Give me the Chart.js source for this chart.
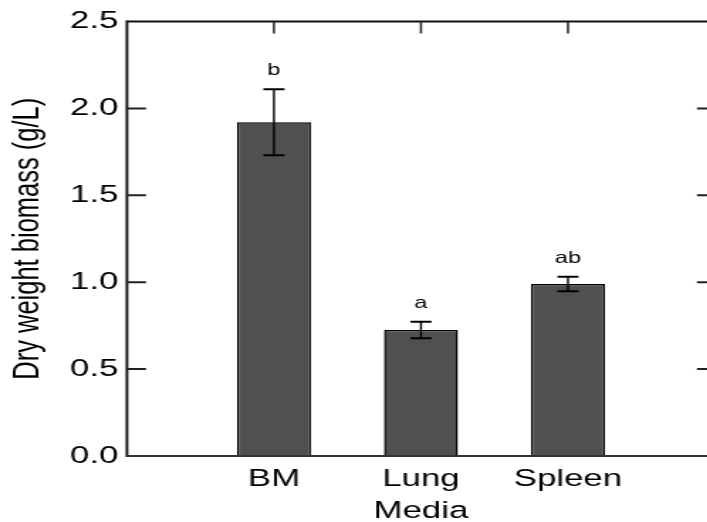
<!DOCTYPE html>
<html>
<head>
<meta charset="utf-8">
<script src="https://cdn.jsdelivr.net/npm/chart.js@4.4.0/dist/chart.umd.min.js"></script>
<style>
  html, body { margin: 0; padding: 0; background: #fff; overflow: hidden; }
  /* the reference is stretched sideways, so the chart is drawn narrow and widened */
  #wrap { width: 510px; height: 522px; transform: scaleX(1.42); transform-origin: 0 0; }
</style>
</head>
<body>
<div id="wrap"><canvas id="chart" width="510" height="522"></canvas></div>
<script>
const categories = ['BM', 'Lung', 'Spleen'];
const biomass = [1.92, 0.725, 0.99];
const errors = [0.19, 0.048, 0.042];
const letters = ['b', 'a', 'ab'];
const yTicks = [0, 0.5, 1.0, 1.5, 2.0, 2.5];

const FONT = "'Liberation Sans', Arial, sans-serif";

const frame = {
  id: 'frame',
  afterDatasetsDraw(chart) {
    const { ctx, scales: { x, y } } = chart;
    ctx.save();
    ctx.strokeStyle = '#000';
    biomass.forEach((v, i) => {
      const px = x.getPixelForValue(i + 1);
      const hi = y.getPixelForValue(v + errors[i]);
      const lo = y.getPixelForValue(v - errors[i]);
      ctx.lineWidth = 1.4;
      ctx.beginPath();
      ctx.moveTo(px, hi); ctx.lineTo(px, lo);
      ctx.stroke();
      ctx.lineWidth = 2;
      ctx.beginPath();
      ctx.moveTo(px - 7.4, hi); ctx.lineTo(px + 7.4, hi);
      ctx.moveTo(px - 7.4, lo); ctx.lineTo(px + 7.4, lo);
      ctx.stroke();
      ctx.fillStyle = '#000';
      ctx.font = '16.5px ' + FONT;
      ctx.textAlign = 'center';
      ctx.textBaseline = 'alphabetic';
      ctx.fillText(letters[i], px, hi - 14);
    });
    ctx.restore();
  },
  afterDraw(chart) {
    const { ctx, chartArea: a, scales: { x, y } } = chart;
    ctx.save();
    ctx.lineCap = 'butt';
    ctx.strokeStyle = '#111';
    ctx.lineWidth = 2;
    ctx.beginPath();
    ctx.moveTo(a.left, a.top); ctx.lineTo(a.right, a.top);
    ctx.stroke();
    ctx.lineWidth = 1.9;
    ctx.beginPath();
    ctx.moveTo(a.left, a.top - 1); ctx.lineTo(a.left, a.bottom + 1);
    ctx.stroke();
    ctx.strokeStyle = '#333';
    ctx.lineWidth = 2;
    ctx.beginPath();
    ctx.moveTo(a.left, a.bottom); ctx.lineTo(a.right, a.bottom);
    ctx.moveTo(a.right, a.top); ctx.lineTo(a.right, a.bottom);
    ctx.stroke();
    // inward ticks
    ctx.strokeStyle = '#222';
    y.ticks.forEach(t => {
      if (t.value <= 0 || t.value >= 2.5) return;
      const py = y.getPixelForValue(t.value);
      ctx.beginPath();
      ctx.moveTo(a.left, py); ctx.lineTo(a.left + 13.4, py);
      ctx.moveTo(a.right - 12.7, py); ctx.lineTo(a.right, py);
      ctx.stroke();
    });
    ctx.lineWidth = 1.5;
    x.ticks.forEach(t => {
      const px = x.getPixelForValue(t.value);
      ctx.beginPath();
      ctx.moveTo(px, a.top); ctx.lineTo(px, a.top + 12);
      ctx.stroke();
    });
    ctx.restore();
  }
};

new Chart(document.getElementById('chart'), {
  type: 'bar',
  data: {
    datasets: [{
      data: biomass.map((v, i) => ({ x: i + 1, y: v })),
      backgroundColor: '#505050',
      borderColor: '#000',
      borderWidth: 1.5,
      barPercentage: 0.503,
      categoryPercentage: 1,
    }],
  },
  options: {
    responsive: false,
    animation: false,
    events: [],
    layout: { padding: { left: 4.5, top: 21.5, right: 6.5, bottom: 0 } },
    plugins: { legend: { display: false }, tooltip: { enabled: false } },
    scales: {
      x: {
        type: 'linear',
        min: 0,
        max: 4,
        offset: false,
        grid: { display: false, drawTicks: false },
        border: { display: false },
        afterBuildTicks: (scale) => { scale.ticks = categories.map((c, i) => ({ value: i + 1 })); },
        afterFit: (scale) => { scale.height = 66; },
        ticks: {
          autoSkip: false,
          maxRotation: 0,
          padding: 9,
          color: '#000',
          font: { family: FONT, size: 24.5 },
          callback: (v) => categories[v - 1] || '',
        },
        title: {
          display: true,
          text: 'Media',
          color: '#000',
          font: { family: FONT, size: 24.5 },
          padding: { top: 0, bottom: -4 },
        },
      },
      y: {
        min: 0,
        max: 2.5,
        grid: { display: false, drawTicks: false },
        border: { display: false },
        afterBuildTicks: (scale) => { scale.ticks = yTicks.map(v => ({ value: v })); },
        afterFit: (scale) => { scale.width = 84.9; },
        ticks: {
          padding: 6,
          color: '#000',
          font: { family: FONT, size: 24.5 },
          callback: (v) => Number(v).toFixed(1),
        },
        title: {
          display: true,
          text: 'Dry weight biomass (g/L)',
          color: '#000',
          font: { family: FONT, size: 25.5 },
          padding: { top: 0, bottom: 0 },
        },
      },
    },
  },
  plugins: [frame],
});
</script>
</body>
</html>
